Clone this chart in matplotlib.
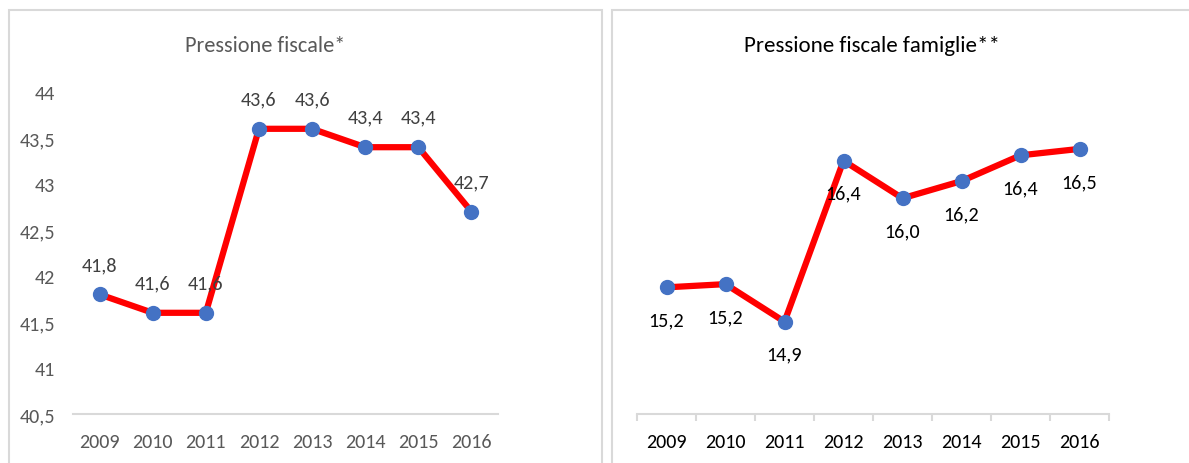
import matplotlib.pyplot as plt
from matplotlib.patches import Rectangle

years = ['2009', '2010', '2011', '2012', '2013', '2014', '2015', '2016']
pressione = [41.8, 41.6, 41.6, 43.6, 43.6, 43.4, 43.4, 42.7]
famiglie = [15.18, 15.21, 14.86, 16.36, 16.01, 16.17, 16.41, 16.47]
left_yticks = [40.5, 41, 41.5, 42, 42.5, 43, 43.5, 44]

FONT = ['Carlito', 'Liberation Sans', 'DejaVu Sans']
plt.rcParams['font.family'] = FONT

W, H = 1189, 464
fig = plt.figure(figsize=(W / 100, H / 100), dpi=100)

def fr(x0, y0, x1, y1):
    # pixel box (top-left origin) -> figure fraction
    return [x0 / W, 1 - y1 / H, (x1 - x0) / W, (y1 - y0) / H]

def fmt(v):
    return f"{v:.1f}".replace('.', ',')

# panel borders
border = '#d9d9d9'
fig.patches.append(Rectangle((8.5 / W, -0.1), (602 - 8.5) / W, 1.1 - 10.5 / H,
                             transform=fig.transFigure, fill=False, ec=border, lw=1.5))
fig.patches.append(Rectangle((612 / W, -0.1), 1.2 - 612 / W, 1.1 - 10.5 / H,
                             transform=fig.transFigure, fill=False, ec=border, lw=1.5))

x = list(range(len(years)))
LBL = 14.5

# left chart
ax1 = fig.add_axes(fr(73, 93, 498, 415))
ax1.plot(x, pressione, color='#ff0000', lw=4.5, marker='o', ms=10,
         mfc='#4472c4', mec='#4472c4', solid_joinstyle='miter', zorder=3)
for xi, v in zip(x, pressione):
    ax1.annotate(fmt(v), (xi, v), xytext=(0, 21.5), textcoords='offset points',
                 ha='center', va='center', fontsize=LBL, color='#404040')
ax1.set_xlim(-0.5, len(years) - 0.5)
ax1.set_ylim(40.5, 44)
ax1.set_yticks(left_yticks)
ax1.set_yticklabels([str(t).replace('.', ',').replace(',0', '') for t in left_yticks])
ax1.set_xticks(x)
ax1.set_xticklabels(years)
ax1.tick_params(axis='both', length=0, labelsize=LBL, labelcolor='#595959')
ax1.tick_params(axis='y', pad=13)
ax1.tick_params(axis='x', pad=14)
for s in ['top', 'right', 'left']:
    ax1.spines[s].set_visible(False)
ax1.spines['bottom'].set_color(border)
ax1.spines['bottom'].set_linewidth(1.5)
ax1.set_facecolor('none')
fig.text(265 / W, 1 - 46 / H, 'Pressione fiscale*', ha='center', va='center',
         fontsize=16, color='#595959')

# right chart
ax2 = fig.add_axes(fr(637, 93, 1109, 415))
ax2.plot(x, famiglie, color='#ff0000', lw=4.5, marker='o', ms=10,
         mfc='#4472c4', mec='#4472c4', solid_joinstyle='miter', zorder=3)
for xi, v in zip(x, famiglie):
    ax2.annotate(fmt(v), (xi, v), xytext=(0, -23.5), textcoords='offset points',
                 ha='center', va='center', fontsize=LBL, color='black')
ax2.set_xlim(-0.5, len(years) - 0.5)
ax2.set_ylim(14, 17)
ax2.set_yticks([])
ax2.set_xticks(x)
ax2.set_xticklabels(years)
ax2.set_xticks([i - 0.5 for i in range(len(years) + 1)], minor=True)
ax2.tick_params(axis='x', which='major', length=0, labelsize=LBL, labelcolor='black', pad=14)
ax2.tick_params(axis='x', which='minor', length=5, width=1.5, color=border, direction='out')
for s in ['top', 'right', 'left']:
    ax2.spines[s].set_visible(False)
ax2.spines['bottom'].set_color(border)
ax2.spines['bottom'].set_linewidth(1.5)
ax2.set_facecolor('none')
fig.text(872 / W, 1 - 46 / H, 'Pressione fiscale famiglie**', ha='center', va='center',
         fontsize=16.5, color='black')

plt.savefig('out.png', dpi=100)
